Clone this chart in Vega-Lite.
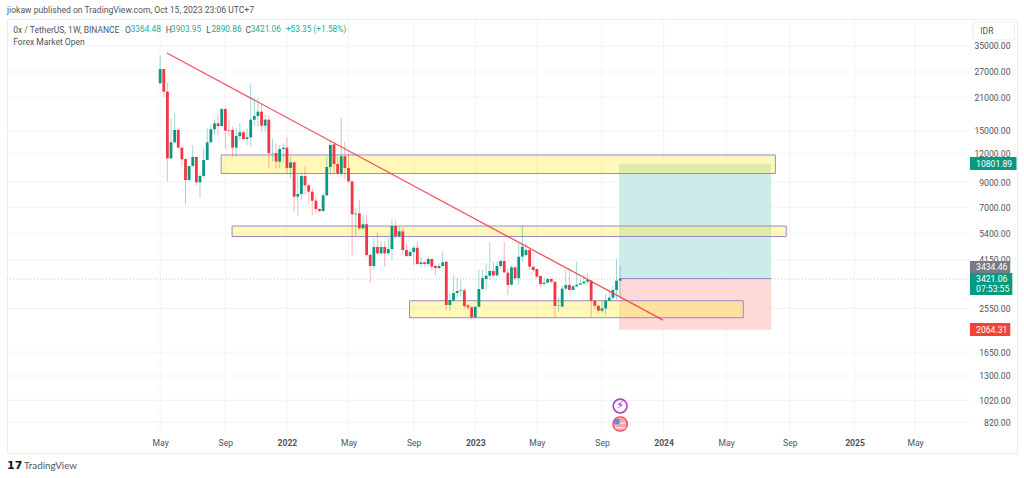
{
  "$schema": "https://vega.github.io/schema/vega-lite/v6.json",
  "width": 1010,
  "height": 434,
  "autosize": "none",
  "padding": {"left": 7, "top": 19, "right": 7, "bottom": 25},
  "background": "white",
  "title": {"text": "jiokaw published on TradingView.com, Oct 15, 2023 23:06 UTC+7", "anchor": "start", "frame": "group", "font": "Roboto", "fontSize": 8.6, "fontWeight": "normal", "color": "#50535e", "offset": 4},
  "config": {"view": {"stroke": "#e9ecf2", "strokeWidth": 1}},
  "datasets": {
    "hgrid": [
      {"start":"2020-07-11","end":"2025-08-15","price":35000},{"start":"2020-07-11","end":"2025-08-15","price":27000},{"start":"2020-07-11","end":"2025-08-15","price":21000},{"start":"2020-07-11","end":"2025-08-15","price":15000},{"start":"2020-07-11","end":"2025-08-15","price":12000},{"start":"2020-07-11","end":"2025-08-15","price":9000},{"start":"2020-07-11","end":"2025-08-15","price":7000},{"start":"2020-07-11","end":"2025-08-15","price":5400},{"start":"2020-07-11","end":"2025-08-15","price":4150},{"start":"2020-07-11","end":"2025-08-15","price":2550},{"start":"2020-07-11","end":"2025-08-15","price":1650},{"start":"2020-07-11","end":"2025-08-15","price":1300},{"start":"2020-07-11","end":"2025-08-15","price":1020},{"start":"2020-07-11","end":"2025-08-15","price":820}
    ],
    "vgrid": [
      {"date":"2021-05-03","top":45820,"bottom":736},{"date":"2021-09-06","top":45820,"bottom":736},{"date":"2022-01-03","top":45820,"bottom":736},{"date":"2022-05-02","top":45820,"bottom":736},{"date":"2022-09-05","top":45820,"bottom":736},{"date":"2023-01-02","top":45820,"bottom":736},{"date":"2023-05-01","top":45820,"bottom":736},{"date":"2023-09-04","top":45820,"bottom":736},{"date":"2024-01-01","top":45820,"bottom":736},{"date":"2024-05-01","top":45820,"bottom":736},{"date":"2024-09-01","top":45820,"bottom":736},{"date":"2025-01-04","top":45820,"bottom":736},{"date":"2025-05-01","top":45820,"bottom":736}
    ],
    "zones": [
      {"start":"2021-08-29","end":"2024-08-04","top":11795,"bottom":9803},
      {"start":"2021-09-19","end":"2024-08-25","top":5806,"bottom":5229},
      {"start":"2022-08-28","end":"2024-06-03","top":2755,"bottom":2325}
    ],
    "candles": [
      {"date":"2021-05-03","open":24110,"high":31840,"low":24000,"close":27820},
      {"date":"2021-05-10","open":27820,"high":27820,"low":20970,"close":22190},
      {"date":"2021-05-17","open":22190,"high":24270,"low":9040,"close":11410},
      {"date":"2021-05-24","open":11410,"high":17000,"low":11290,"close":13390},
      {"date":"2021-05-31","open":13390,"high":17880,"low":13250,"close":15140},
      {"date":"2021-06-07","open":15140,"high":15390,"low":12600,"close":12690},
      {"date":"2021-06-14","open":12690,"high":12800,"low":10500,"close":11290},
      {"date":"2021-06-21","open":11330,"high":11330,"low":7230,"close":9190},
      {"date":"2021-06-28","open":9190,"high":10570,"low":9040,"close":10570},
      {"date":"2021-07-05","open":10570,"high":13030,"low":10500,"close":11560},
      {"date":"2021-07-12","open":11560,"high":11600,"low":8740,"close":8980},
      {"date":"2021-07-19","open":8980,"high":9820,"low":7660,"close":9565},
      {"date":"2021-07-26","open":9565,"high":12600,"low":9480,"close":11220},
      {"date":"2021-08-02","open":11220,"high":15390,"low":11220,"close":13390},
      {"date":"2021-08-09","open":13390,"high":15910,"low":13250,"close":15240},
      {"date":"2021-08-16","open":15240,"high":16730,"low":14400,"close":16180},
      {"date":"2021-08-23","open":16180,"high":17580,"low":14400,"close":15750},
      {"date":"2021-08-30","open":15750,"high":18790,"low":15650,"close":18660},
      {"date":"2021-09-06","open":18660,"high":18790,"low":12600,"close":15040},
      {"date":"2021-09-13","open":15140,"high":16730,"low":14160,"close":15040},
      {"date":"2021-09-20","open":15140,"high":15650,"low":11600,"close":12690},
      {"date":"2021-09-27","open":12690,"high":15390,"low":11600,"close":14250},
      {"date":"2021-10-04","open":14250,"high":16180,"low":13700,"close":14790},
      {"date":"2021-10-11","open":14790,"high":15140,"low":13700,"close":13830},
      {"date":"2021-10-18","open":13830,"high":15390,"low":13030,"close":14070},
      {"date":"2021-10-25","open":14070,"high":23950,"low":12820,"close":16780},
      {"date":"2021-11-01","open":16780,"high":20760,"low":15750,"close":17400},
      {"date":"2021-11-08","open":17400,"high":20760,"low":15650,"close":18175},
      {"date":"2021-11-15","open":18175,"high":19750,"low":14890,"close":15800},
      {"date":"2021-11-22","open":15800,"high":17580,"low":14890,"close":16780},
      {"date":"2021-11-29","open":16780,"high":17580,"low":10320,"close":12000},
      {"date":"2021-12-06","open":11990,"high":13930,"low":11040,"close":12030},
      {"date":"2021-12-13","open":12030,"high":13250,"low":10320,"close":11040},
      {"date":"2021-12-20","open":11040,"high":13030,"low":10320,"close":12520},
      {"date":"2021-12-27","open":12520,"high":13250,"low":11040,"close":12690},
      {"date":"2022-01-03","open":12690,"high":14070,"low":9820,"close":10360},
      {"date":"2022-01-10","open":10360,"high":11600,"low":9340,"close":10960},
      {"date":"2022-01-17","open":10960,"high":10960,"low":6690,"close":7780},
      {"date":"2022-01-24","open":7780,"high":9660,"low":6440,"close":7990},
      {"date":"2022-01-31","open":7990,"high":9820,"low":7530,"close":9565},
      {"date":"2022-02-07","open":9565,"high":10500,"low":7910,"close":8715},
      {"date":"2022-02-14","open":8715,"high":8830,"low":7280,"close":8180},
      {"date":"2022-02-21","open":8180,"high":8450,"low":6480,"close":7475},
      {"date":"2022-02-28","open":7475,"high":7800,"low":6590,"close":6880},
      {"date":"2022-03-07","open":6880,"high":6925,"low":6690,"close":6740},
      {"date":"2022-03-14","open":6740,"high":8045,"low":6690,"close":7885},
      {"date":"2022-03-21","open":7885,"high":11600,"low":7835,"close":10460},
      {"date":"2022-03-28","open":10460,"high":13700,"low":9820,"close":13030},
      {"date":"2022-04-04","open":13130,"high":13470,"low":9820,"close":10780},
      {"date":"2022-04-11","open":10780,"high":11600,"low":9660,"close":9820},
      {"date":"2022-04-18","open":9820,"high":17000,"low":9480,"close":11640},
      {"date":"2022-04-25","open":11640,"high":13470,"low":9340,"close":10360},
      {"date":"2022-05-02","open":10360,"high":12000,"low":8890,"close":9070},
      {"date":"2022-05-09","open":9070,"high":9070,"low":4320,"close":6525},
      {"date":"2022-05-16","open":6525,"high":6925,"low":5210,"close":6570},
      {"date":"2022-05-23","open":6590,"high":7530,"low":5580,"close":5675},
      {"date":"2022-05-30","open":5675,"high":6480,"low":5580,"close":5910},
      {"date":"2022-06-06","open":5910,"high":6480,"low":4275,"close":4350},
      {"date":"2022-06-13","open":4350,"high":4422,"low":3298,"close":3895},
      {"date":"2022-06-20","open":3895,"high":5133,"low":3743,"close":4710},
      {"date":"2022-06-27","open":4710,"high":5450,"low":4347,"close":4420},
      {"date":"2022-07-04","open":4420,"high":4966,"low":4347,"close":4710},
      {"date":"2022-07-11","open":4710,"high":4966,"low":3870,"close":4420},
      {"date":"2022-07-18","open":4420,"high":5133,"low":4347,"close":4615},
      {"date":"2022-07-25","open":4615,"high":6268,"low":4135,"close":5808},
      {"date":"2022-08-01","open":5808,"high":6165,"low":5133,"close":5255},
      {"date":"2022-08-08","open":5255,"high":5768,"low":5133,"close":5505},
      {"date":"2022-08-15","open":5505,"high":5730,"low":4347,"close":4570},
      {"date":"2022-08-22","open":4570,"high":4884,"low":4247,"close":4303},
      {"date":"2022-08-29","open":4303,"high":4570,"low":4276,"close":4481},
      {"date":"2022-09-05","open":4481,"high":4724,"low":3934,"close":4676},
      {"date":"2022-09-12","open":4676,"high":4966,"low":3934,"close":3974},
      {"date":"2022-09-19","open":3974,"high":4276,"low":3870,"close":4041},
      {"date":"2022-09-26","open":4041,"high":4068,"low":3934,"close":3974},
      {"date":"2022-10-03","open":3974,"high":4276,"low":3870,"close":4177},
      {"date":"2022-10-10","open":4177,"high":4205,"low":3743,"close":3870},
      {"date":"2022-10-17","open":3895,"high":3934,"low":3561,"close":3819},
      {"date":"2022-10-24","open":3819,"high":4001,"low":3743,"close":3895},
      {"date":"2022-10-31","open":3895,"high":4494,"low":3870,"close":4041},
      {"date":"2022-11-07","open":4068,"high":4068,"low":2511,"close":2639},
      {"date":"2022-11-14","open":2639,"high":2965,"low":2494,"close":2774},
      {"date":"2022-11-21","open":2756,"high":3561,"low":2728,"close":2974},
      {"date":"2022-11-28","open":2974,"high":3444,"low":2821,"close":3036},
      {"date":"2022-12-05","open":3036,"high":3387,"low":2868,"close":3056},
      {"date":"2022-12-12","open":3056,"high":3117,"low":2552,"close":2612},
      {"date":"2022-12-19","open":2630,"high":2666,"low":2511,"close":2578},
      {"date":"2022-12-26","open":2578,"high":2612,"low":2288,"close":2334},
      {"date":"2023-01-02","open":2334,"high":2596,"low":2334,"close":2596},
      {"date":"2023-01-09","open":2596,"high":3767,"low":2578,"close":3097},
      {"date":"2023-01-16","open":3097,"high":3743,"low":3056,"close":3444},
      {"date":"2023-01-23","open":3421,"high":4001,"low":3066,"close":3537},
      {"date":"2023-01-30","open":3537,"high":4933,"low":3388,"close":3706},
      {"date":"2023-02-06","open":3706,"high":4068,"low":3503,"close":3549},
      {"date":"2023-02-13","open":3549,"high":4068,"low":3503,"close":3895},
      {"date":"2023-02-20","open":3895,"high":4136,"low":3806,"close":4095},
      {"date":"2023-02-27","open":4095,"high":4933,"low":3644,"close":3657},
      {"date":"2023-03-06","open":3644,"high":3806,"low":2915,"close":3223},
      {"date":"2023-03-13","open":3234,"high":3935,"low":3200,"close":3844},
      {"date":"2023-03-20","open":3844,"high":3870,"low":3388,"close":3444},
      {"date":"2023-03-27","open":3444,"high":4885,"low":3223,"close":4276},
      {"date":"2023-04-03","open":4276,"high":5826,"low":4068,"close":4725},
      {"date":"2023-04-10","open":4347,"high":4885,"low":4276,"close":4570},
      {"date":"2023-04-17","open":4570,"high":4640,"low":3743,"close":3870},
      {"date":"2023-04-24","open":3870,"high":3870,"low":3644,"close":3743},
      {"date":"2023-05-01","open":3781,"high":3781,"low":3450,"close":3503},
      {"date":"2023-05-08","open":3526,"high":3526,"low":3150,"close":3256},
      {"date":"2023-05-15","open":3256,"high":3450,"low":3200,"close":3299},
      {"date":"2023-05-22","open":3299,"high":3450,"low":3270,"close":3421},
      {"date":"2023-05-29","open":3421,"high":3450,"low":3270,"close":3332},
      {"date":"2023-06-05","open":3332,"high":3332,"low":2326,"close":2613},
      {"date":"2023-06-12","open":2613,"high":2840,"low":2469,"close":2622},
      {"date":"2023-06-19","open":2596,"high":3200,"low":2596,"close":3107},
      {"date":"2023-06-26","open":3107,"high":3743,"low":3050,"close":3223},
      {"date":"2023-07-03","open":3223,"high":3806,"low":3060,"close":3066},
      {"date":"2023-07-10","open":3066,"high":3230,"low":3060,"close":3181},
      {"date":"2023-07-17","open":3181,"high":4068,"low":3170,"close":3234},
      {"date":"2023-07-24","open":3234,"high":3450,"low":3220,"close":3277},
      {"date":"2023-07-31","open":3277,"high":3561,"low":3260,"close":3332},
      {"date":"2023-08-07","open":3332,"high":3621,"low":3250,"close":3388},
      {"date":"2023-08-14","open":3365,"high":3388,"low":2326,"close":2757},
      {"date":"2023-08-21","open":2757,"high":2775,"low":2537,"close":2622},
      {"date":"2023-08-28","open":2622,"high":2640,"low":2445,"close":2495},
      {"date":"2023-09-04","open":2495,"high":2750,"low":2445,"close":2553},
      {"date":"2023-09-11","open":2553,"high":2950,"low":2389,"close":2757},
      {"date":"2023-09-18","open":2757,"high":3097,"low":2740,"close":2840},
      {"date":"2023-09-25","open":2840,"high":3200,"low":2760,"close":3066},
      {"date":"2023-10-02","open":3066,"high":4164,"low":2775,"close":3365},
      {"date":"2023-10-09","open":3364.48,"high":3903.95,"low":2890.86,"close":3421.06}
    ],
    "darkText": [
      {"date":"2020-07-23","price":41060,"label":"0x / TetherUS, 1W, BINANCE"},
      {"date":"2021-02-24","price":41060,"label":"O"},
      {"date":"2021-05-14","price":41060,"label":"H"},
      {"date":"2021-07-31","price":41060,"label":"L"},
      {"date":"2021-10-15","price":41060,"label":"C"},
      {"date":"2020-07-23","price":36425,"label":"Forex Market Open"},
      {"date":"2025-09-04","price":40650,"label":"IDR"}
    ],
    "tealText": [
      {"date":"2021-03-07","price":41060,"label":"3364.48"},
      {"date":"2021-05-24","price":41060,"label":"3903.95"},
      {"date":"2021-08-10","price":41060,"label":"2890.86"},
      {"date":"2021-10-25","price":41060,"label":"3421.06"},
      {"date":"2022-01-01","price":41060,"label":"+53.35 (+1.58%)"}
    ],
    "tags": [
      {"start":"2025-08-15","end":"2025-11-13","top":11562,"bottom":10154,"fill":"teal"},
      {"start":"2025-08-15","end":"2025-11-01","top":4095,"bottom":3632,"fill":"grey"},
      {"start":"2025-08-15","end":"2025-11-05","top":3632,"bottom":2916,"fill":"teal"},
      {"start":"2025-08-15","end":"2025-11-01","top":2204,"bottom":1936,"fill":"red"}
    ],
    "tagText": [
      {"date":"2025-08-27","price":10801.89,"label":"10801.89"},
      {"date":"2025-08-27","price":3857,"label":"3434.46"},
      {"date":"2025-08-27","price":3423,"label":"3421.06"},
      {"date":"2025-08-27","price":3098,"label":"07:53:55"},
      {"date":"2025-08-27","price":2064.31,"label":"2064.31"}
    ]
  },
  "layer": [
    {
      "data": {"name": "hgrid"},
      "mark": {"type": "rule", "color": "#f0f3fa", "strokeWidth": 1},
      "encoding": {
        "x": {"field": "start", "type": "temporal", "title": null, "scale": {"type": "utc", "domain": ["2020-07-11", "2025-11-14"], "nice": false, "padding": 0},
          "axis": {"title": null, "grid": false, "domain": false, "ticks": false, "labelPadding": -11, "labelBaseline": "middle", "labelFont": "Roboto", "labelFontSize": 8.6, "labelColor": "#50535e", "labelOverlap": false, "labelFlush": false,
            "values": ["2021-05-03","2021-09-06","2022-01-03","2022-05-02","2022-09-05","2023-01-02","2023-05-01","2023-09-04","2024-01-01","2024-05-01","2024-09-01","2025-01-04","2025-05-01"],
            "labelExpr": "utcmonth(datum.value) == 0 ? utcFormat(datum.value, '%Y') : utcFormat(datum.value, '%b')",
            "labelFontWeight": {"condition": {"test": "utcmonth(datum.value) == 0", "value": "bold"}, "value": "normal"}}},
        "x2": {"field": "end"},
        "y": {"field": "price", "type": "quantitative", "title": null, "scale": {"type": "log", "domain": [602.8, 45820], "nice": false},
          "axis": {"title": null, "orient": "right", "grid": false, "domain": false, "ticks": false, "labelPadding": -7, "labelAlign": "right", "labelFont": "Roboto", "labelFontSize": 8.6, "labelColor": "#50535e", "labelOverlap": false, "labelFlush": false, "format": ".2f",
            "values": [35000,27000,21000,15000,12000,9000,7000,5400,4150,2550,1650,1300,1020,820]}}
      }
    },
    {
      "data": {"name": "vgrid"},
      "mark": {"type": "rule", "color": "#f0f3fa", "strokeWidth": 1},
      "encoding": {
        "x": {"field": "date", "type": "temporal", "title": null},
        "y": {"field": "top", "type": "quantitative", "title": null},
        "y2": {"field": "bottom"}
      }
    },
    {
      "data": {"values": [{"start":"2020-07-11","end":"2025-08-15","price":3421.06}]},
      "mark": {"type": "rule", "color": "#c3cdc9", "strokeWidth": 1, "strokeDash": [1, 2]},
      "encoding": {
        "x": {"field": "start", "type": "temporal", "title": null},
        "x2": {"field": "end"},
        "y": {"field": "price", "type": "quantitative", "title": null}
      }
    },
    {
      "data": {"values": [
        {"start":"2023-10-07","end":"2024-07-27","top":10801.89,"bottom":3434.46,"side":"target"},
        {"start":"2023-10-07","end":"2024-07-27","top":3434.46,"bottom":2064.31,"side":"stop"}
      ]},
      "mark": {"type": "rect"},
      "encoding": {
        "x": {"field": "start", "type": "temporal", "title": null},
        "x2": {"field": "end"},
        "y": {"field": "top", "type": "quantitative", "title": null},
        "y2": {"field": "bottom"},
        "color": {"field": "side", "type": "nominal", "legend": null, "scale": {"domain": ["target", "stop"], "range": ["#cdebe8", "#fdd9d8"]}}
      }
    },
    {
      "data": {"values": [{"start":"2023-10-07","end":"2024-07-27","price":3434.46}]},
      "mark": {"type": "rule", "color": "#9575cd", "strokeWidth": 1},
      "encoding": {
        "x": {"field": "start", "type": "temporal", "title": null},
        "x2": {"field": "end"},
        "y": {"field": "price", "type": "quantitative", "title": null}
      }
    },
    {
      "data": {"name": "zones"},
      "mark": {"type": "rect", "fill": "#ffeb3b", "fillOpacity": 0.36, "stroke": "#9c88cc", "strokeWidth": 1},
      "encoding": {
        "x": {"field": "start", "type": "temporal", "title": null},
        "x2": {"field": "end"},
        "y": {"field": "top", "type": "quantitative", "title": null},
        "y2": {"field": "bottom"}
      }
    },
    {
      "data": {"name": "candles"},
      "mark": {"type": "rule", "strokeWidth": 1, "opacity": 0.38},
      "encoding": {
        "x": {"field": "date", "type": "temporal", "title": null},
        "y": {"field": "low", "type": "quantitative", "title": null},
        "y2": {"field": "high"},
        "color": {"condition": {"test": "datum.close >= datum.open", "value": "#089981"}, "value": "#f23645"}
      }
    },
    {
      "data": {"name": "candles"},
      "mark": {"type": "bar", "size": 2.8},
      "encoding": {
        "x": {"field": "date", "type": "temporal", "title": null},
        "y": {"field": "open", "type": "quantitative", "title": null},
        "y2": {"field": "close"},
        "color": {"condition": {"test": "datum.close >= datum.open", "value": "#089981"}, "value": "#f23645"}
      }
    },
    {
      "data": {"values": [{"date":"2021-05-16","price":32640},{"date":"2023-12-31","price":2271}]},
      "mark": {"type": "line", "color": "#f23645", "strokeWidth": 1.3, "opacity": 0.85},
      "encoding": {
        "x": {"field": "date", "type": "temporal", "title": null},
        "y": {"field": "price", "type": "quantitative", "title": null}
      }
    },
    {
      "data": {"name": "tags"},
      "mark": {"type": "rect"},
      "encoding": {
        "x": {"field": "start", "type": "temporal", "title": null},
        "x2": {"field": "end"},
        "y": {"field": "top", "type": "quantitative", "title": null},
        "y2": {"field": "bottom"},
        "fill": {"field": "fill", "type": "nominal", "legend": null, "scale": {"domain": ["teal", "grey", "red"], "range": ["#089981", "#787b86", "#f44336"]}}
      }
    },
    {
      "data": {"name": "tagText"},
      "mark": {"type": "text", "align": "left", "baseline": "middle", "font": "Roboto", "fontSize": 8.6, "color": "white"},
      "encoding": {
        "x": {"field": "date", "type": "temporal", "title": null},
        "y": {"field": "price", "type": "quantitative", "title": null},
        "text": {"field": "label"}
      }
    },
    {
      "data": {"values": [{"start":"2025-08-21","end":"2025-11-09","top":44470,"bottom":37160}]},
      "mark": {"type": "rect", "fill": "white", "stroke": "#e9ecf2", "cornerRadius": 2},
      "encoding": {
        "x": {"field": "start", "type": "temporal", "title": null},
        "x2": {"field": "end"},
        "y": {"field": "top", "type": "quantitative", "title": null},
        "y2": {"field": "bottom"}
      }
    },
    {
      "data": {"name": "darkText"},
      "mark": {"type": "text", "align": "left", "baseline": "middle", "font": "Roboto", "fontSize": 8.5, "color": "#50535e"},
      "encoding": {
        "x": {"field": "date", "type": "temporal", "title": null},
        "y": {"field": "price", "type": "quantitative", "title": null},
        "text": {"field": "label"}
      }
    },
    {
      "data": {"name": "tealText"},
      "mark": {"type": "text", "align": "left", "baseline": "middle", "font": "Roboto", "fontSize": 8.3, "color": "#22ab94"},
      "encoding": {
        "x": {"field": "date", "type": "temporal", "title": null},
        "y": {"field": "price", "type": "quantitative", "title": null},
        "text": {"field": "label"}
      }
    },
    {
      "data": {"values": [{"date":"2020-08-13","price":528,"label":"TradingView"}]},
      "mark": {"type": "text", "align": "left", "baseline": "middle", "font": "Lato", "fontSize": 9.8, "color": "#50535e"},
      "encoding": {
        "x": {"field": "date", "type": "temporal", "title": null},
        "y": {"field": "price", "type": "quantitative", "title": null},
        "text": {"field": "label"}
      }
    },
    {
      "data": {"values": [{"date":"2020-07-11","price":528,"label":"17"}]},
      "mark": {"type": "text", "align": "left", "baseline": "middle", "font": "DejaVu Sans", "fontWeight": "bold", "fontSize": 11, "color": "#131722"},
      "encoding": {
        "x": {"field": "date", "type": "temporal", "title": null},
        "y": {"field": "price", "type": "quantitative", "title": null},
        "text": {"field": "label"}
      }
    },
    {
      "data": {"values": [{"date":"2023-10-09","price":963}]},
      "mark": {"type": "point", "filled": false, "size": 190, "color": "#ab47bc", "strokeWidth": 1.6, "opacity": 1},
      "encoding": {
        "x": {"field": "date", "type": "temporal", "title": null},
        "y": {"field": "price", "type": "quantitative", "title": null}
      }
    },
    {
      "data": {"values": [{"date":"2023-10-09","price":963,"label":"⚡"}]},
      "mark": {"type": "text", "align": "center", "baseline": "middle", "font": "DejaVu Sans", "fontSize": 11, "fontWeight": "bold", "color": "#9c27b0"},
      "encoding": {
        "x": {"field": "date", "type": "temporal", "title": null},
        "y": {"field": "price", "type": "quantitative", "title": null},
        "text": {"field": "label"}
      }
    },
    {
      "data": {"values": [{"date":"2023-10-09","price":805}]},
      "mark": {"type": "point", "filled": true, "size": 210, "fill": "#f7a8ad", "stroke": "#f23645", "strokeWidth": 1.2, "opacity": 1},
      "encoding": {
        "x": {"field": "date", "type": "temporal", "title": null},
        "y": {"field": "price", "type": "quantitative", "title": null}
      }
    },
    {
      "data": {"values": [{"date":"2023-10-09","price":812},{"date":"2023-10-09","price":775}]},
      "mark": {"type": "point", "shape": "stroke", "size": 110, "stroke": "white", "strokeWidth": 1.4},
      "encoding": {
        "x": {"field": "date", "type": "temporal", "title": null},
        "y": {"field": "price", "type": "quantitative", "title": null}
      }
    },
    {
      "data": {"values": [{"date":"2023-10-03","price":825}]},
      "mark": {"type": "point", "shape": "square", "filled": true, "size": 28, "color": "#5b8def", "opacity": 1},
      "encoding": {
        "x": {"field": "date", "type": "temporal", "title": null},
        "y": {"field": "price", "type": "quantitative", "title": null}
      }
    }
  ]
}
